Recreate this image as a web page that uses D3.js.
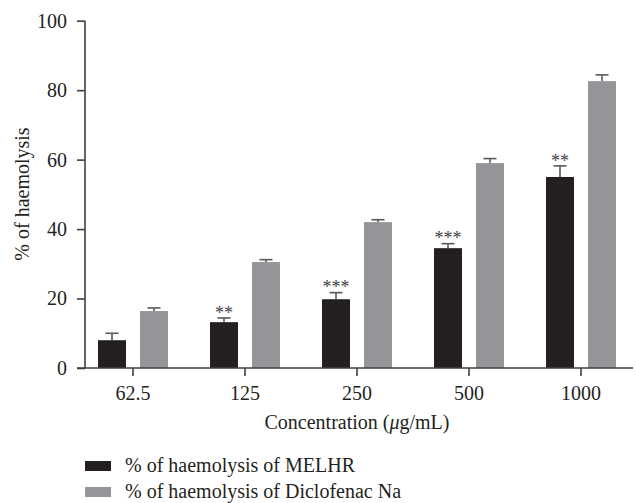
<!DOCTYPE html>
<html>
<head>
<meta charset="utf-8">
<script src="https://cdn.jsdelivr.net/npm/d3@7"></script>
<style>
  html, body { margin: 0; padding: 0; background: #fff; }
  svg { display: block; }
  text { font-family: "Liberation Serif", "DejaVu Serif", serif; fill: #231f20; }
</style>
</head>
<body>
<svg id="chart" width="636" height="503"></svg>
<script>
const categories = ["62.5", "125", "250", "500", "1000"];
const melhr = [8.0, 13.2, 19.8, 34.5, 55.0];
const melhrErr = [2.0, 1.2, 1.9, 1.3, 3.2];
const diclofenac = [16.4, 30.5, 42.0, 59.0, 82.6];
const diclofenacErr = [0.9, 0.7, 0.7, 1.3, 1.8];
const significance = ["", "**", "***", "***", "**"];
const yTicks = [0, 20, 40, 60, 80, 100];
const seriesNames = ["% of haemolysis of MELHR", "% of haemolysis of Diclofenac Na"];
const colors = ["#231f20", "#939598"];

const svg = d3.select("#chart");
const x0 = 77, x1 = 637, yTop = 20.7, yBot = 368;
const x = d3.scaleBand().domain(categories).range([x0, x1]).padding(0);
const y = d3.scaleLinear().domain([0, 100]).range([yBot, yTop]);

const barW = 28, gap = 14;
const series = [
  { vals: melhr, errs: melhrErr, color: colors[0], off: -gap / 2 - barW },
  { vals: diclofenac, errs: diclofenacErr, color: colors[1], off: gap / 2 }
];

series.forEach(s => {
  const g = svg.append("g");
  categories.forEach((c, i) => {
    const cx = x(c) + x.bandwidth() / 2 + s.off + barW / 2;
    const top = y(s.vals[i] + s.errs[i]);
    g.append("line").attr("x1", cx).attr("x2", cx)
      .attr("y1", y(s.vals[i])).attr("y2", top)
      .attr("stroke", "#58595b").attr("stroke-width", 1.6);
    g.append("line").attr("x1", cx - 6.5).attr("x2", cx + 6.5)
      .attr("y1", top).attr("y2", top)
      .attr("stroke", "#58595b").attr("stroke-width", 1.6);
  });
  g.selectAll("rect").data(s.vals).join("rect")
    .attr("x", (d, i) => x(categories[i]) + x.bandwidth() / 2 + s.off)
    .attr("width", barW)
    .attr("y", d => y(d))
    .attr("height", d => y(0) - y(d))
    .attr("fill", s.color);
});

// significance stars
svg.append("g").selectAll("text").data(significance).join("text")
  .attr("x", (d, i) => x(categories[i]) + x.bandwidth() / 2 - gap / 2 - barW / 2)
  .attr("y", (d, i) => y(melhr[i] + melhrErr[i]) - 10)
  .attr("dy", "0.6em")
  .attr("text-anchor", "middle")
  .style("font-size", "18px")
  .style("fill", "#414042")
  .text(d => d);

// y axis
const yAxis = d3.axisLeft(y).tickValues(yTicks).tickSize(8).tickPadding(10).tickFormat(d3.format("d"));
const gy = svg.append("g").attr("transform", `translate(85,0)`).call(yAxis);
gy.select(".domain").attr("d", `M0,${yTop}V${yBot}`);

// x axis
const xAxis = d3.axisBottom(x).tickSize(8).tickPadding(10);
const gx = svg.append("g").attr("transform", `translate(0,${yBot})`).call(xAxis);
gx.select(".domain").attr("d", `M77,0H633`);

[gx, gy].forEach(g => {
  g.selectAll(".domain").attr("stroke", "#414042").attr("stroke-width", 1.6);
  g.selectAll(".tick line").attr("stroke", "#414042").attr("stroke-width", 1.6);
  g.selectAll(".tick text").style("font-size", "20px").style("font-family", "'Liberation Serif', serif").attr("fill", "#231f20");
});

// axis titles
const xt = svg.append("text").attr("x", 357).attr("y", 429).attr("text-anchor", "middle").style("font-size", "20px");
xt.append("tspan").text("Concentration (");
xt.append("tspan").style("font-style", "italic").text("μ");
xt.append("tspan").text("g/mL)");

svg.append("text").attr("transform", `translate(29,194) rotate(-90)`)
  .attr("text-anchor", "middle").style("font-size", "20px").text("% of haemolysis");

// legend
const lg = svg.append("g");
seriesNames.forEach((n, i) => {
  const ly = 461 + i * 26;
  lg.append("rect").attr("x", 85).attr("y", ly).attr("width", 26).attr("height", 10).attr("fill", colors[i]);
  lg.append("text").attr("x", 125).attr("y", ly + 11).style("font-size", "20px").text(n);
});
</script>
</body>
</html>
